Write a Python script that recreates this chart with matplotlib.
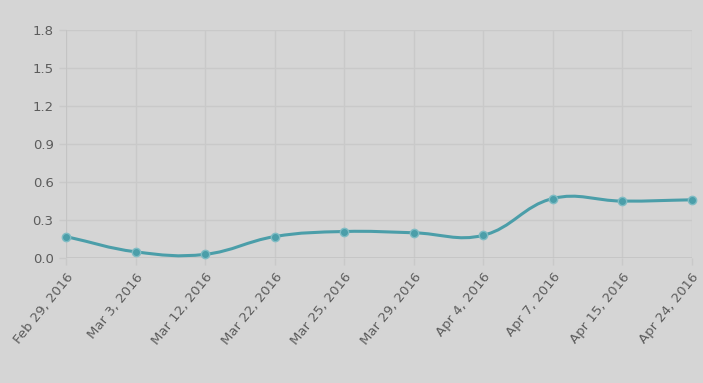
import numpy as np
import matplotlib.pyplot as plt
from matplotlib.path import Path
from matplotlib.patches import PathPatch

# data
dates = ['Feb 29, 2016', 'Mar 3, 2016', 'Mar 12, 2016', 'Mar 22, 2016', 'Mar 25, 2016',
         'Mar 29, 2016', 'Apr 4, 2016', 'Apr 7, 2016', 'Apr 15, 2016', 'Apr 24, 2016']
values = [0.17, 0.05, 0.03, 0.17, 0.21, 0.20, 0.18, 0.47, 0.45, 0.46]
y_ticks = [0.0, 0.3, 0.6, 0.9, 1.2, 1.5, 1.8]

bg = '#d5d5d5'
grid_c = '#c9c9c9'
line_c = '#4b9ea9'
text_c = '#5c5c5c'

fig = plt.figure(figsize=(7.03, 3.83), dpi=100, facecolor=bg)
ax = fig.add_axes([0.094, 0.326, 0.890, 0.596], facecolor=bg)

x = np.arange(len(values))
ax.set_xlim(0, len(values) - 1)
ax.set_ylim(0, 1.8)

# smooth curve like chart.js (tension 0.4), worked out in pixel space
fig.canvas.draw()
pts = ax.transData.transform(np.column_stack([x, values]))
t = 0.4
verts = [pts[0]]
codes = [Path.MOVETO]
cps = []
for i in range(len(pts)):
    prev = pts[max(i - 1, 0)]
    cur = pts[i]
    nxt = pts[min(i + 1, len(pts) - 1)]
    d01 = np.hypot(*(cur - prev))
    d12 = np.hypot(*(nxt - cur))
    s = d01 + d12
    fa = t * d01 / s if s else 0
    fb = t * d12 / s if s else 0
    cps.append((cur - fa * (nxt - prev), cur + fb * (nxt - prev)))
for i in range(1, len(pts)):
    verts += [cps[i - 1][1], cps[i][0], pts[i]]
    codes += [Path.CURVE4] * 3
curve = Path(ax.transData.inverted().transform(np.array(verts)), codes)
ax.add_patch(PathPatch(curve, facecolor='none', edgecolor=line_c, lw=2.2, zorder=3))

ax.plot(x, values, 'o', color=line_c, ms=6, mec='#7fbcc4', mew=1, zorder=4, clip_on=False)

ax.set_xticks(x)
ax.set_xticklabels(dates, rotation=51, ha='right', rotation_mode='anchor')
ax.set_yticks(y_ticks)
ax.set_yticklabels([f'{v:.1f}' for v in y_ticks])
ax.grid(True, color=grid_c, lw=1)
ax.set_axisbelow(True)
for s in ax.spines.values():
    s.set_visible(False)
ax.axhline(0, color='#c4c4c4', lw=1.2, zorder=1)
ax.axvline(0, color='#c4c4c4', lw=1.2, zorder=1)
ax.tick_params(colors=grid_c, length=5, width=1, labelsize=9.5, labelcolor=text_c, pad=4)

fig.savefig('out.png', dpi=100, facecolor=bg)
